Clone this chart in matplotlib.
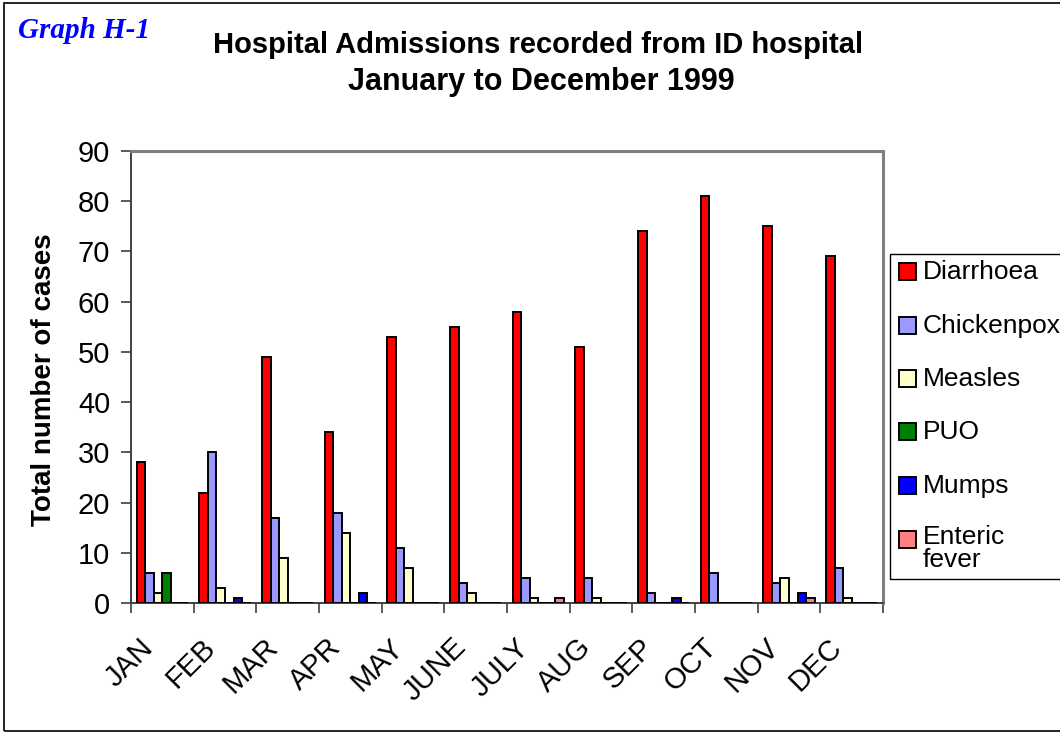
import numpy as np
import matplotlib
matplotlib.use("Agg")
import matplotlib.pyplot as plt
from matplotlib.patches import Rectangle
from matplotlib.transforms import ScaledTranslation

months = ["JAN", "FEB", "MAR", "APR", "MAY", "JUNE", "JULY", "AUG", "SEP", "OCT", "NOV", "DEC"]
diarrhoea = [28, 22, 49, 34, 53, 55, 58, 51, 74, 81, 75, 69]
chickenpox = [6, 30, 17, 18, 11, 4, 5, 5, 2, 6, 4, 7]
measles = [2, 3, 9, 14, 7, 2, 1, 1, 0, 0, 5, 1]
puo = [6, 0, 0, 0, 0, 0, 0, 0, 0, 0, 0, 0]
mumps = [0, 1, 0, 2, 0, 0, 0, 0, 1, 0, 2, 0]
enteric = [0, 0, 0, 0, 0, 0, 1, 0, 0, 0, 1, 0]

series_names = ["Diarrhoea", "Chickenpox", "Measles", "PUO", "Mumps", "Enteric\nfever"]
series_values = [diarrhoea, chickenpox, measles, puo, mumps, enteric]
series_colors = ["#FF0000", "#9999FF", "#FFFFCC", "#008000", "#0000FF", "#FF8080"]
y_ticks = list(range(0, 91, 10))

plt.rcParams["font.family"] = ["Liberation Sans", "DejaVu Sans"]

fig = plt.figure(figsize=(10.6, 7.33), dpi=100)
W, H = 1060, 733

# outer chart border
fig.patches.append(Rectangle((4 / W, 2 / H), 1.2, (H - 5) / H, transform=fig.transFigure,
                             fill=False, edgecolor="black", linewidth=1.2))

ax = fig.add_axes([131 / W, (H - 603) / H, (883 - 131) / W, (603 - 151) / H])

x = np.arange(len(months))
bw = 0.136
for i, (name, vals, col) in enumerate(zip(series_names, series_values, series_colors)):
    ax.bar(x + (i - 2.5) * bw, vals, width=bw, color=col, edgecolor="black",
           linewidth=1.4, label=name, zorder=3)

ax.set_xlim(-0.5, len(months) - 0.5)
ax.set_ylim(0, 90)
ax.set_yticks(y_ticks)
ax.tick_params(axis="y", direction="out", length=7, width=1.2, pad=8, labelsize=21,
               color="#404040")

# category boundary ticks
ax.set_xticks(np.arange(-0.5, len(months), 1.0), minor=True)
ax.tick_params(axis="x", which="minor", direction="out", length=7, width=1.2, color="#404040")
ax.set_xticks(x)
ax.set_xticklabels(months, fontsize=21)
ax.tick_params(axis="x", which="major", length=0, pad=0)
off = ScaledTranslation(-14 / 100, -40 / 100, fig.dpi_scale_trans)
for lab in ax.get_xticklabels():
    lab.set_rotation(45)
    lab.set_ha("right")
    lab.set_va("center")
    lab.set_rotation_mode("anchor")
    lab.set_transform(lab.get_transform() + off)

for side in ("left", "bottom"):
    ax.spines[side].set_color("#404040")
    ax.spines[side].set_linewidth(1.4)
for side in ("top", "right"):
    ax.spines[side].set_color("#808080")
    ax.spines[side].set_linewidth(2.2)

ax.set_ylabel("Total number of cases", fontsize=20, fontweight="bold")
ax.yaxis.set_label_coords(57 / W, (H - 380) / H, transform=fig.transFigure)

fig.text(538 / W, (H - 45) / H, "Hospital Admissions recorded from ID hospital",
         ha="center", va="center", fontsize=21, fontweight="bold")
fig.text(541 / W, (H - 82) / H, "January to December 1999",
         ha="center", va="center", fontsize=22, fontweight="bold")
fig.text(18 / W, (H - 30) / H, "Graph H-1", ha="left", va="center", fontsize=21,
         fontweight="bold", style="italic", color="#0000FF",
         family=["Liberation Serif", "DejaVu Serif"])

# legend frame and entries
fig.patches.append(Rectangle((890 / W, (H - 579) / H), 1.0, (579 - 254) / H,
                             transform=fig.transFigure, fill=False,
                             edgecolor="black", linewidth=1.0))
entry_y = [272, 326, 379, 432, 486, 540]
for name, col, yy in zip(series_names, series_colors, entry_y):
    fig.patches.append(Rectangle((899 / W, (H - yy - 8) / H), 17 / W, 17 / H,
                                 transform=fig.transFigure, facecolor=col,
                                 edgecolor="black", linewidth=1.4))
    if "\n" in name:
        fig.text(923 / W, (H - yy + 15) / H, name, ha="left", va="top",
                 fontsize=19, linespacing=0.95)
    else:
        fig.text(923 / W, (H - yy) / H, name, ha="left", va="center", fontsize=19)

fig.savefig("out.png", dpi=100)
